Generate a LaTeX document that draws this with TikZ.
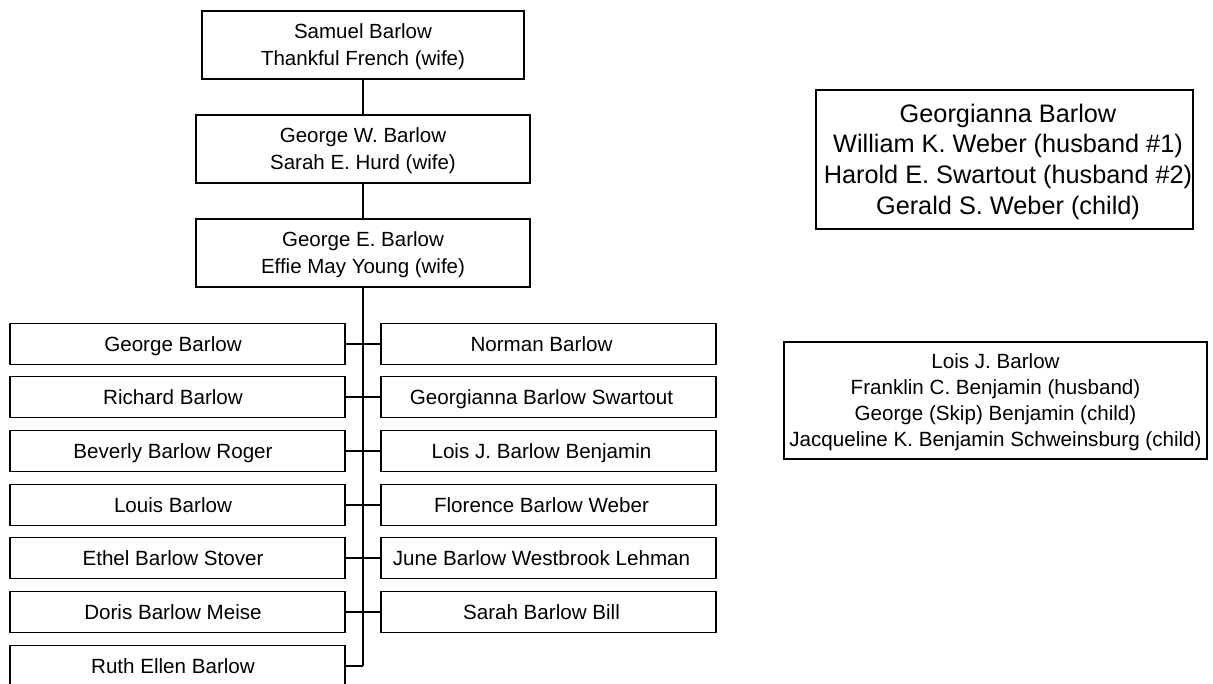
\documentclass[tikz,border=0pt]{standalone}
\usepackage{fontspec}
\setmainfont{Liberation Sans}
\begin{document}
\begin{tikzpicture}[x=1pt,y=-1pt,
  box/.style={draw=black,line width=1.3pt,rectangle,inner sep=0pt,align=center},
  gen/.style={box,minimum height=68pt,text depth=0pt,font=\fontsize{20.5}{27}\selectfont},
  kidtext/.style={font=\fontsize{20.6}{24}\selectfont,text height=18pt,text depth=3.4pt,inner sep=0pt},
  kidL/.style={box,minimum width=335pt,minimum height=41pt,label={[kidtext,xshift=-4.5pt]center:#1}},
  kidR/.style={box,minimum width=335pt,minimum height=41pt,label={[kidtext,xshift=-7pt]center:#1}},
  conn/.style={draw=black,line width=1.3pt}]
\useasboundingbox (0,0) rectangle (1213,683);
\clip (0,0) rectangle (1213,683);
\node[gen,minimum width=322pt] (b1) at (363,45) {Samuel Barlow\\Thankful French (wife)};
\node[gen,minimum width=334pt] (b2) at (363,149) {George W. Barlow\\Sarah E. Hurd (wife)};
\node[gen,minimum width=334pt] (b3) at (363,253) {George E. Barlow\\Effie May Young (wife)};
\node[kidL={George Barlow}] (l1) at (177.5,344) {};
\node[kidL={Richard Barlow}] (l2) at (177.5,397) {};
\node[kidL={Beverly Barlow Roger}] (l3) at (177.5,451) {};
\node[kidL={Louis Barlow}] (l4) at (177.5,505) {};
\node[kidL={Ethel Barlow Stover}] (l5) at (177.5,558) {};
\node[kidL={Doris Barlow Meise}] (l6) at (177.5,612) {};
\node[kidL={Ruth Ellen Barlow}] (l7) at (177.5,666) {};
\node[kidR={Norman Barlow}] (r1) at (548.5,344) {};
\node[kidR={Georgianna Barlow Swartout}] (r2) at (548.5,397) {};
\node[kidR={Lois J. Barlow Benjamin}] (r3) at (548.5,451) {};
\node[kidR={Florence Barlow Weber}] (r4) at (548.5,505) {};
\node[kidR={June Barlow Westbrook Lehman}] (r5) at (548.5,558) {};
\node[kidR={Sarah Barlow Bill}] (r6) at (548.5,612) {};
\coordinate (trunk) at (363,666);
\path[conn] (b1.south) -- (b2.north);
\path[conn] (b2.south) -- (b3.north);
\path[conn] (b3.south) -- (trunk);
\foreach \i in {1,...,6} {\path[conn] (l\i.east) -- (r\i.west);}
\path[conn] (l7.east) -- (trunk);
\node[box,minimum width=377pt,minimum height=139pt] (gb) at (1004.5,159.5) {};
\node[align=center,inner sep=0pt,font=\fontsize{25.3}{30.7}\selectfont] (gbt) at (1008,161.5) {Georgianna Barlow\\William K. Weber (husband \#1)\\Harold E. Swartout (husband \#2)\\Gerald S. Weber (child)};
\node[box,minimum width=423pt,minimum height=117pt,text depth=0pt,font=\fontsize{20.6}{26}\selectfont] (lb) at (995.5,400.5) {Lois J. Barlow\\Franklin C. Benjamin (husband)\\George (Skip) Benjamin (child)\\Jacqueline K. Benjamin Schweinsburg (child)};
\end{tikzpicture}
\end{document}
